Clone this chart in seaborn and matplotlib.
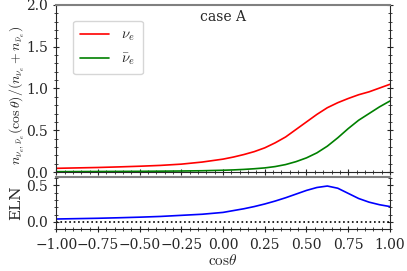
import numpy as np
import matplotlib
matplotlib.use('Agg')
import matplotlib.pyplot as plt
import seaborn as sns

# data
cos_theta = [-1.0, -0.875, -0.75, -0.625, -0.5, -0.375, -0.25, -0.125, 0.0,
             0.0625, 0.125, 0.1875, 0.25, 0.3125, 0.375, 0.4375, 0.5, 0.5625,
             0.625, 0.6875, 0.75, 0.8125, 0.875, 0.9375, 1.0]
n_nue = [0.045, 0.05, 0.055, 0.062, 0.07, 0.08, 0.095, 0.12, 0.155,
         0.18, 0.21, 0.245, 0.29, 0.35, 0.42, 0.51, 0.60, 0.69,
         0.77, 0.83, 0.88, 0.925, 0.96, 1.005, 1.05]
n_nuebar = [0.005, 0.006, 0.007, 0.008, 0.009, 0.011, 0.013, 0.016, 0.022,
            0.026, 0.032, 0.04, 0.05, 0.066, 0.09, 0.125, 0.17, 0.23,
            0.31, 0.41, 0.52, 0.62, 0.70, 0.78, 0.85]
eln = [0.04, 0.045, 0.05, 0.057, 0.065, 0.075, 0.09, 0.105, 0.13,
       0.155, 0.18, 0.21, 0.245, 0.285, 0.33, 0.38, 0.43, 0.47,
       0.49, 0.46, 0.39, 0.32, 0.27, 0.235, 0.21]

sns.set_style('ticks')
plt.rcParams['font.family'] = ['DejaVu Serif']
plt.rcParams['mathtext.fontset'] = 'cm'
plt.rcParams['font.size'] = 10

fig = plt.figure(figsize=(4.07, 2.71), dpi=100)
ax1 = fig.add_axes([0.138, 0.365, 0.82, 0.617])
ax2 = fig.add_axes([0.138, 0.154, 0.82, 0.192], sharex=ax1)

sns.lineplot(x=cos_theta, y=n_nue, ax=ax1, color='red', lw=1.2, label=r'$\nu_e$')
sns.lineplot(x=cos_theta, y=n_nuebar, ax=ax1, color='green', lw=1.2, label=r'$\bar{\nu}_e$')
ax1.set_xlim(-1, 1)
ax1.set_ylim(0, 2)
ax1.set_yticks([0, 0.5, 1.0, 1.5, 2.0])
ax1.set_ylabel(r'$n_{\nu_e,\bar{\nu}_e}(\cos\theta)/(n_{\nu_e}+n_{\bar{\nu}_e})$', fontsize=10)
ax1.yaxis.set_label_coords(-0.09, 0.46)
ax1.text(0.43, 0.93, 'case A', transform=ax1.transAxes, va='center', fontsize=10)
ax1.legend(loc='upper left', bbox_to_anchor=(0.028, 0.95), fontsize=10.5,
           handlelength=2.0, handletextpad=0.8, borderpad=0.5, labelspacing=0.55)
plt.setp(ax1.get_xticklabels(), visible=False)

sns.lineplot(x=cos_theta, y=eln, ax=ax2, color='blue', lw=1.2)
ax2.axhline(0, color='black', ls=':', lw=1.2)
ax2.set_ylim(-0.1, 0.61)
ax2.set_yticks([0, 0.5])
ax2.set_ylabel('ELN', fontsize=11)
ax2.yaxis.set_label_coords(-0.1, 0.5)
ax2.set_xlabel(r'$\mathrm{cos}\theta$', fontsize=11, labelpad=1)
ax2.set_xticks([-1, -0.75, -0.5, -0.25, 0, 0.25, 0.5, 0.75, 1.0])

for ax in (ax1, ax2):
    ax.minorticks_on()
    ax.tick_params(which='both', direction='inout', right=True, top=False)
    ax.tick_params(which='major', length=5)
    ax.tick_params(which='minor', length=3)
    ax.spines['top'].set_color('0.5')
    ax.spines['top'].set_linewidth(1.5)

fig.savefig('out.png', dpi=100)
